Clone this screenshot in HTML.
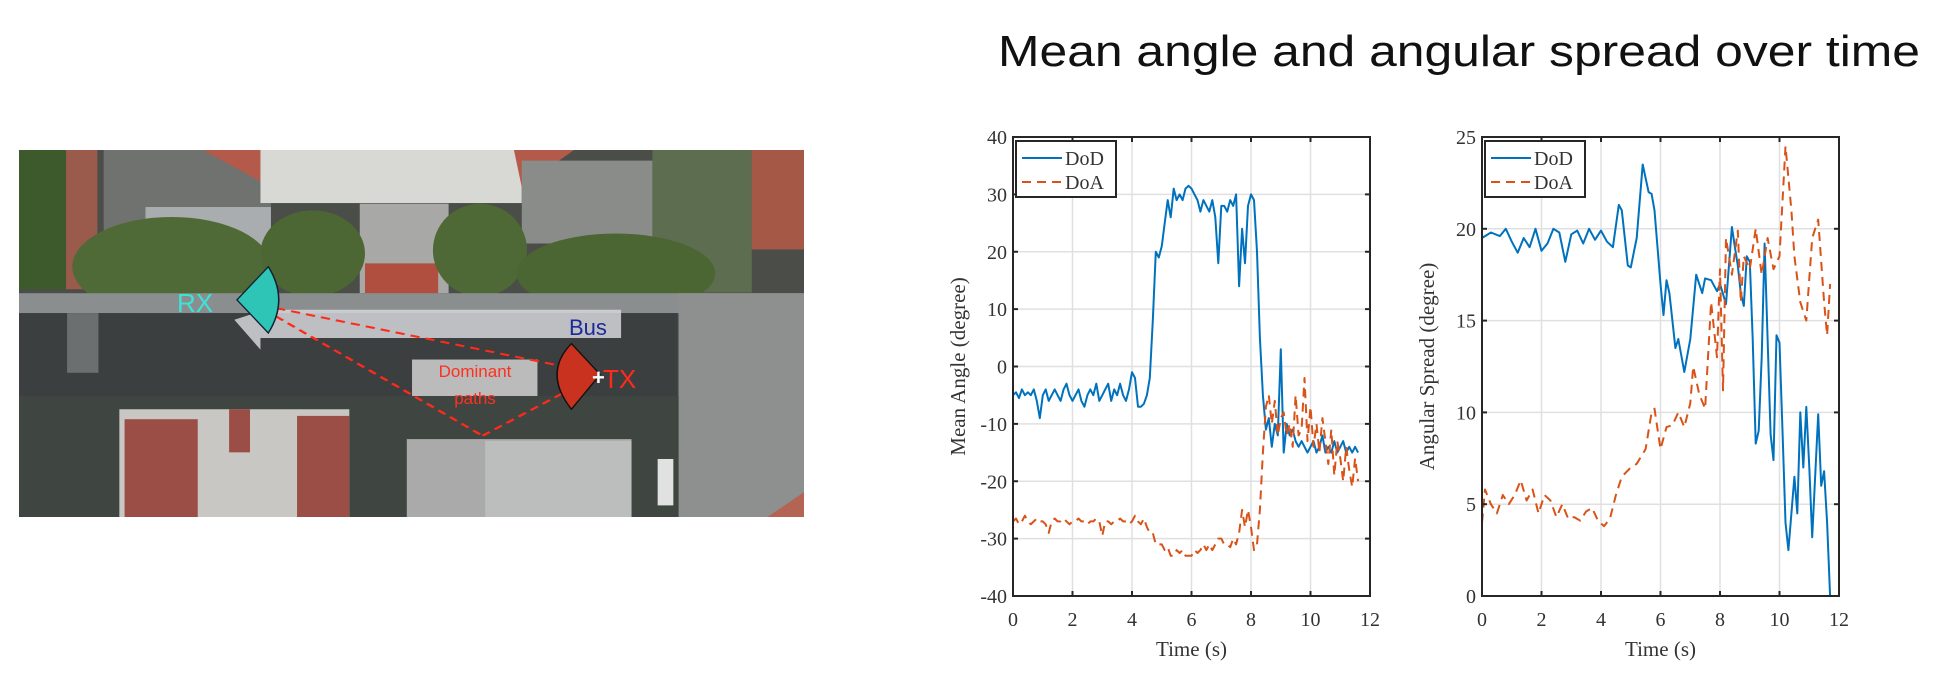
<!DOCTYPE html>
<html><head><meta charset="utf-8">
<style>
html,body{margin:0;padding:0;background:#fff;width:1956px;height:698px;overflow:hidden}
svg{position:absolute;left:0;top:0}
.tick{font-family:"Liberation Serif",serif;font-size:20px;fill:#333}
.ttl{font-family:"Liberation Serif",serif;font-size:21px;fill:#333}
</style></head>
<body>
<svg id="main" width="1956" height="698">
  <text x="998" y="66" font-family="Liberation Sans, sans-serif" font-size="44" fill="#111" textLength="922" lengthAdjust="spacingAndGlyphs">Mean angle and angular spread over time</text>

  <svg x="19" y="150" width="785" height="367" viewBox="38 28 1502 1107" preserveAspectRatio="none">
    <rect x="38" y="28" width="1502" height="1107" fill="#4a4d48"/>
    <rect x="38" y="28" width="90" height="420" fill="#3d5a2c"/>
    <rect x="128" y="28" width="60" height="420" fill="#9a5a4c"/>
    <rect x="200" y="28" width="320" height="300" fill="#6f726e"/>
    <rect x="280" y="200" width="240" height="120" fill="#a9adb0"/>
    <polygon points="390,28 520,28 520,140" fill="#b45a4a"/>
    <rect x="500" y="28" width="500" height="160" fill="#d8d8d5"/>
    <rect x="690" y="190" width="170" height="270" fill="#a8a8a6"/>
    <rect x="700" y="370" width="140" height="90" fill="#b04e3f"/>
    <polygon points="985,28 1100,28 1000,140" fill="#b45a4a"/>
    <rect x="1000" y="60" width="250" height="250" fill="#8a8c8a"/>
    <rect x="1250" y="28" width="190" height="430" fill="#5d6d50"/>
    <rect x="1440" y="28" width="100" height="300" fill="#a55846"/>
    <ellipse cx="330" cy="380" rx="190" ry="150" fill="#4f6a37"/>
    <ellipse cx="600" cy="340" rx="100" ry="130" fill="#4c6634"/>
    <ellipse cx="920" cy="330" rx="90" ry="140" fill="#4e6836"/>
    <ellipse cx="1180" cy="400" rx="190" ry="120" fill="#4b6633"/>
    <rect x="38" y="460" width="1502" height="60" fill="#8b8e8f"/>
    <rect x="38" y="520" width="1260" height="250" fill="#3c3f40"/>
    <rect x="1300" y="460" width="240" height="675" fill="#8e9090"/>
    <rect x="130" y="520" width="60" height="180" fill="#6c6f70"/>
    <polygon points="450,540 510,510 1190,510 1190,595 500,595 500,630" fill="#d4d6d9" opacity="0.85"/>
    <rect x="790" y="660" width="240" height="140" fill="#c9c9c9" opacity="0.9"/>
    <rect x="38" y="770" width="1262" height="365" fill="#3f4642"/>
    <rect x="230" y="810" width="440" height="325" fill="#c9c7c4"/>
    <rect x="240" y="840" width="140" height="295" fill="#9a4e45"/>
    <rect x="440" y="810" width="40" height="130" fill="#9a4e45"/>
    <rect x="570" y="830" width="100" height="305" fill="#9a4e45"/>
    <rect x="780" y="900" width="430" height="235" fill="#a9aaa9"/>
    <rect x="930" y="905" width="280" height="230" fill="#bcbdbd"/>
    <rect x="1260" y="960" width="30" height="140" fill="#e1e1e1"/>
    <polygon points="1470,1135 1540,1060 1540,1135" fill="#b46452"/>
    <line x1="530" y1="505" x2="1140" y2="700" stroke="#ff2a1a" stroke-width="6" stroke-dasharray="18,12"/>
    <line x1="530" y1="530" x2="925" y2="890" stroke="#ff2a1a" stroke-width="6" stroke-dasharray="18,12"/>
    <line x1="925" y1="890" x2="1140" y2="710" stroke="#ff2a1a" stroke-width="6" stroke-dasharray="18,12"/>
    <path d="M455,480 L515,380 Q555,480 515,580 Z" fill="#2ec4b6" stroke="#123" stroke-width="3"/>
    <path d="M1150,705 L1095,612 Q1040,700 1095,810 Z" fill="#c8321f" stroke="#111" stroke-width="3"/>
  </svg>
  <text x="177" y="312" font-family="Liberation Sans, sans-serif" font-size="26" fill="#3de3d8">RX</text>
  <text x="603" y="388" font-family="Liberation Sans, sans-serif" font-size="26" fill="#ff2a1a">TX</text>
  <text x="569" y="335" font-family="Liberation Sans, sans-serif" font-size="22" fill="#1a2a9a">Bus</text>
  <text x="475" y="377" text-anchor="middle" font-family="Liberation Sans, sans-serif" font-size="17" fill="#ff3020">Dominant</text>
  <text x="475" y="404" text-anchor="middle" font-family="Liberation Sans, sans-serif" font-size="17" fill="#ff3020">paths</text>
  <text x="592" y="385" font-family="Liberation Sans, sans-serif" font-size="22" font-weight="bold" fill="#fff">+</text>
  <g id="charts"></g>
</svg>
<script>
// ---- Left chart data (mean angle) ----
const meanT = [0,0.1,0.2,0.3,0.4,0.5,0.6,0.7,0.8,0.9,1.0,1.1,1.2,1.3,1.4,1.5,1.6,1.7,1.8,1.9,2.0,2.1,2.2,2.3,2.4,2.5,2.6,2.7,2.8,2.9,3.0,3.1,3.2,3.3,3.4,3.5,3.6,3.7,3.8,3.9,4.0,4.1,4.2,4.3,4.4,4.5,4.6,4.7,4.8,4.9,5.0,5.1,5.2,5.3,5.4,5.5,5.6,5.7,5.8,5.9,6.0,6.1,6.2,6.3,6.4,6.5,6.6,6.7,6.8,6.9,7.0,7.1,7.2,7.3,7.4,7.5,7.6,7.7,7.8,7.9,8.0,8.1,8.2,8.3,8.4,8.5,8.6,8.7,8.8,8.9,9.0,9.1,9.2,9.3,9.4,9.5,9.6,9.7,9.8,9.9,10.0,10.1,10.2,10.3,10.4,10.5,10.6,10.7,10.8,10.9,11.0,11.1,11.2,11.3,11.4,11.5,11.6];
const meanDoD = [-5,-4.5,-5.5,-4,-5,-4.5,-5,-4,-6,-9,-5,-4,-6,-5,-4,-5,-6,-4,-3,-5,-6,-5,-4,-6,-7,-5,-4,-5,-3,-6,-5,-4,-3,-6,-4,-5,-3,-5,-6,-4,-1,-2,-7,-7,-6.5,-5,-2,8,20,19,21,25,29,26,31,29,30,29,31,31.5,31,30,29,27,29,28,27,29,26,18,28,28,27,29,28,30,14,24,18,28,30,29,20,5,-5,-11,-9,-14,-10,-12,3,-15,-10,-12,-11,-13,-14,-13,-14,-15,-14,-13,-15,-14,-12,-15,-14,-15,-13,-15,-14,-13,-15,-14,-15,-14,-15];
const meanDoA = [-27,-26.5,-27.5,-27,-26,-27,-27.5,-27,-26.5,-27,-27,-27.5,-29,-27,-26.5,-27,-27,-26.5,-27,-27.5,-27,-27,-26.5,-27,-27,-27.5,-27,-27,-26.5,-27,-29.5,-27,-27,-27.5,-27,-27,-26.5,-27,-27,-27.5,-27,-26,-27,-27.5,-26.5,-28,-29,-29,-31,-31,-31,-32,-31.5,-33,-33,-32,-32.5,-32,-33,-33,-33,-32,-32.5,-32,-31,-32,-31,-32,-31,-30,-30,-31,-31,-31.5,-30,-31,-29,-25,-28,-25,-28,-32,-31,-25,-15,-7,-5,-10,-6,-12,-9,-8,-12,-10,-14,-5,-12,-11,-2,-13,-7,-14,-10,-15,-9,-13,-17,-11,-19,-13,-16,-20,-14,-18,-21,-16,-20,-17,-19];
const meanYTicks = [40,30,20,10,0,-10,-20,-30,-40];
// ---- Right chart data (angular spread) ----
const sprT1 = [0,0.3,0.6,0.8,1.0,1.2,1.4,1.6,1.8,2.0,2.2,2.4,2.6,2.8,3.0,3.2,3.4,3.6,3.8,4.0,4.2,4.4,4.6,4.7,4.9,5.0,5.2,5.4,5.6,5.7,5.8,6.0,6.1,6.2,6.3,6.5,6.6,6.8,7.0,7.2,7.4,7.5,7.7,7.9,8.0,8.2,8.4,8.5,8.6,8.7,8.8,8.9,9.0,9.1,9.2,9.3,9.4,9.5,9.6,9.7,9.8,9.9,10.0,10.1,10.2,10.3,10.5,10.6,10.7,10.8,10.9,11.0,11.1,11.3,11.4,11.5,11.6,11.7];
const sprDoD = [19.5,19.8,19.6,20,19.3,18.7,19.5,19,20,18.8,19.2,20,19.8,18.2,19.7,19.9,19.2,20,19.4,19.9,19.3,19,21.3,21,18,17.9,19.5,23.5,22,21.9,21,17,15.3,17.2,16.5,13.5,14,12.2,14,17.5,16.5,17.3,17.2,16.6,17,15.9,20.1,19,18,16.5,15.8,18.5,18.2,14,8.3,9,13,19.2,14,8.8,7.4,14.2,13.8,9,4,2.5,6.5,4.5,10,7,10.3,7,3.2,9.9,6,6.8,4,0];
const sprT2 = [0,0.1,0.3,0.5,0.7,0.9,1.1,1.3,1.5,1.7,1.9,2.1,2.3,2.5,2.7,2.9,3.1,3.3,3.5,3.7,3.9,4.1,4.3,4.5,4.7,5.0,5.2,5.5,5.7,5.8,6.0,6.2,6.4,6.6,6.8,7.0,7.1,7.3,7.5,7.7,7.9,8.0,8.1,8.2,8.4,8.6,8.7,8.8,9.0,9.2,9.4,9.6,9.8,10.0,10.2,10.4,10.5,10.7,10.9,11.1,11.3,11.5,11.6,11.7];
const sprDoA = [4,5.8,5,4.5,5.5,5,5.5,6.3,5.2,5.8,4.5,5.5,5.2,4.3,5,4.2,4.3,4.1,4.6,4.8,4.1,3.8,4.2,5.5,6.5,7,7.2,8,10,10.2,8,9.2,9.3,10,9.2,10.5,12.5,11,10.2,16,13,17.8,11.2,19.5,17.5,19.9,16,18.5,17.8,20,17.5,19.5,17.8,18.5,24.5,21,18.5,16,15,19.5,20.5,16,14.2,17];
const sprYTicks = [25,20,15,10,5,0];
const xTicks = [0,2,4,6,8,10,12];

const NS = "http://www.w3.org/2000/svg";
const root = document.getElementById('charts');
function mk(tag, attrs, parent){const e=document.createElementNS(NS,tag);for(const k in attrs)e.setAttribute(k,attrs[k]);(parent||root).appendChild(e);return e;}

function chart(cfg){
  const {L,R,T,B,ymin,ymax,yTicks,ylabel,series,name}=cfg;
  const g=mk('g',{});
  
  
  const sx=v=>L+(v-0)/(12-0)*(R-L);
  const sy=v=>B-(v-ymin)/(ymax-ymin)*(B-T);
  xTicks.forEach(t=>{ if(t>0&&t<12){const l=mk('line',{x1:sx(t),x2:sx(t),y1:T,y2:B,stroke:'#e0e0e0','stroke-width':1.5},g);
    
    }});
  yTicks.forEach(t=>{ if(t>ymin&&t<ymax){const l=mk('line',{x1:L,x2:R,y1:sy(t),y2:sy(t),stroke:'#e0e0e0','stroke-width':1.5},g);
    
    }});
  series.forEach(s=>{
    const d=s.x.map((x,i)=>(i?'L':'M')+sx(x).toFixed(1)+','+sy(s.y[i]).toFixed(1)).join(' ');
    const p=mk('path',{d:d,fill:'none',stroke:s.color,'stroke-width':2,'stroke-dasharray':s.dash||'none','stroke-linejoin':'round'},g);
    
    
  });
  const box=mk('rect',{x:L,y:T,width:R-L,height:B-T,fill:'none',stroke:'#262626','stroke-width':2},g);
  
  
  xTicks.forEach(t=>{
    mk('line',{x1:sx(t),x2:sx(t),y1:B,y2:B-5,stroke:'#262626','stroke-width':2},g);
    mk('line',{x1:sx(t),x2:sx(t),y1:T,y2:T+5,stroke:'#262626','stroke-width':2},g);
    const tx=mk('text',{x:sx(t),y:B+30,'text-anchor':'middle',class:'tick'},g);
    tx.textContent=t;
    
    
  });
  yTicks.forEach(t=>{
    mk('line',{x1:L,x2:L+5,y1:sy(t),y2:sy(t),stroke:'#262626','stroke-width':2},g);
    mk('line',{x1:R,x2:R-5,y1:sy(t),y2:sy(t),stroke:'#262626','stroke-width':2},g);
    const tx=mk('text',{x:L-6,y:sy(t)+7,'text-anchor':'end',class:'tick'},g);
    tx.textContent=t;
    
    
  });
  const xl=mk('text',{x:(L+R)/2,y:B+60,'text-anchor':'middle',class:'ttl'},g);
  xl.textContent='Time (s)';
  
  
  const cy=(T+B)/2, cx=L-48;
  const yl=mk('text',{x:cx,y:cy,'text-anchor':'middle',class:'ttl',transform:`rotate(-90 ${cx} ${cy})`},g);
  yl.textContent=ylabel;
  
  
  const lx=L+3, ly=T+4;
  const lg=mk('g',{},g);
  
  
  mk('rect',{x:lx,y:ly,width:100,height:56,fill:'#fff',stroke:'#262626','stroke-width':2},lg);
  series.forEach((s,i)=>{
    const yy=ly+17+i*24;
    mk('line',{x1:lx+6,x2:lx+46,y1:yy,y2:yy,stroke:s.color,'stroke-width':2,'stroke-dasharray':s.dash||'none'},lg);
    const t=mk('text',{x:lx+49,y:yy+7,class:'tick','font-size':'19'},lg);
    t.textContent=s.label;
    
    
  });
}
chart({name:'mean-angle-chart',L:1013,R:1370,T:137,B:596,ymin:-40,ymax:40,yTicks:meanYTicks,ylabel:'Mean Angle (degree)',
  series:[{name:'dod-line',label:'DoD',x:meanT,y:meanDoD,color:'#0072BD'},{name:'doa-line',label:'DoA',x:meanT,y:meanDoA,color:'#D95319',dash:'9,6'}]});
chart({name:'angular-spread-chart',L:1482,R:1839,T:137,B:596,ymin:0,ymax:25,yTicks:sprYTicks,ylabel:'Angular Spread (degree)',
  series:[{name:'dod-line',label:'DoD',x:sprT1,y:sprDoD,color:'#0072BD'},{name:'doa-line',label:'DoA',x:sprT2,y:sprDoA,color:'#D95319',dash:'9,6'}]});
</script>
</body></html>
